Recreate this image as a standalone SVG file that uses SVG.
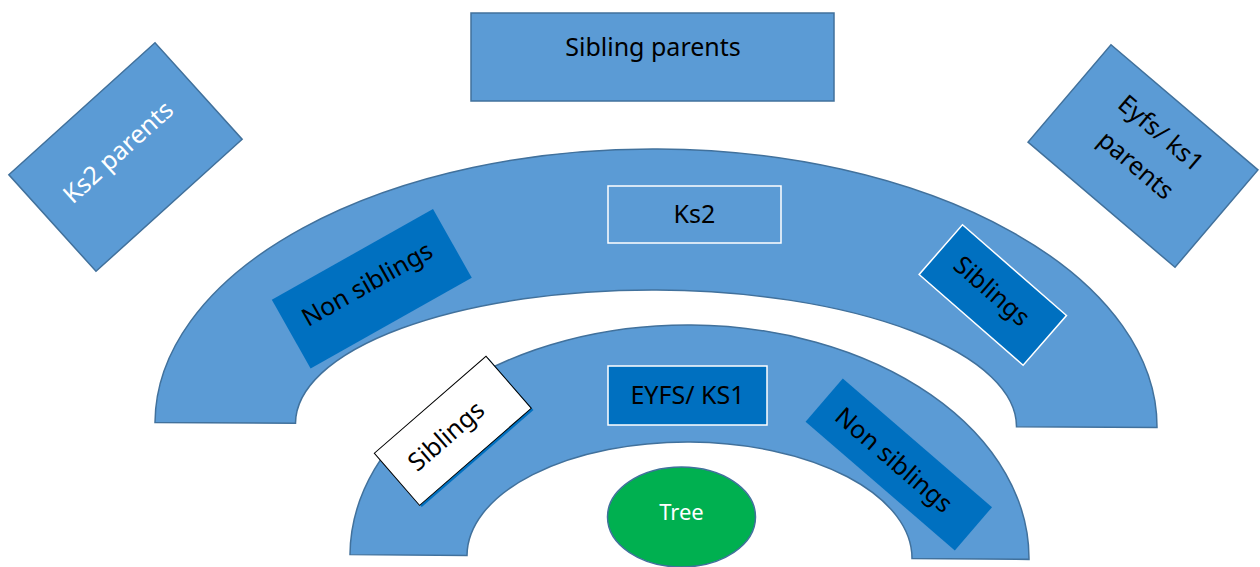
<svg xmlns="http://www.w3.org/2000/svg" width="1260" height="567" viewBox="0 0 1260 567">
<style>
.arc{fill:#5B9BD5;stroke:#41719C;stroke-width:1.5}
.lt{fill:#5B9BD5;stroke:#41719C;stroke-width:1.5}
.dk{fill:#0070C0}
.wb{stroke:#FFFFFF;stroke-width:1.5}
text{font-family:"Noto Sans","Open Sans","Liberation Sans",sans-serif;font-size:25px;text-anchor:middle}
.b{fill:#000000}
.w{fill:#FFFFFF}
</style>
<rect width="1260" height="567" fill="#FFFFFF"/>
<g id="outer-arc">
<path class="arc" transform="rotate(0.28 656 425)" d="M155,425 A501,276 0 0 1 1157,425 L1016.5,425 A360.5,135 0 0 0 295.5,425 Z"/>
</g>
<g id="inner-arc">
<path class="arc" transform="rotate(0.4 689.5 557)" d="M350,557 A339.5,232 0 0 1 1029,557 L912,557 A222.5,115 0 0 0 467,557 Z"/>
</g>
<g id="ks2-parents">
<rect class="lt" x="-98.5" y="-65" width="197" height="130" transform="translate(125.5,157) rotate(-42.1)"/>
<text class="w" transform="translate(118,152) rotate(-42.1)" dy="0.35em">Ks2 parents</text>
</g>
<g id="sibling-parents">
<rect class="lt" x="471" y="13" width="363" height="88"/>
<text class="b" x="653" y="56">Sibling parents</text>
</g>
<g id="eyfs-ks1-parents">
<rect class="lt" x="-96.5" y="-64" width="193" height="128" transform="translate(1143,156) rotate(40.4)"/>
<text class="b" transform="translate(1161,133) rotate(40.4)" dy="0.35em">Eyfs/ ks1</text>
<text class="b" transform="translate(1136,165) rotate(40.4)" dy="0.35em">parents</text>
</g>
<g id="ks2">
<rect x="608" y="186" width="173" height="57" fill="#5B9BD5" class="wb"/>
<text class="b" x="694.5" y="223">Ks2</text>
</g>
<g id="outer-non-siblings">
<rect class="dk" x="-92.5" y="-39.5" width="185" height="79" transform="translate(371.8,288.8) rotate(-29.4)"/>
<text class="b" transform="translate(367,284) rotate(-29.4)" dy="0.35em">Non siblings</text>
</g>
<g id="outer-siblings">
<rect class="dk wb" x="-69" y="-33" width="138" height="66" transform="translate(992.8,295) rotate(41.1)"/>
<text class="b" transform="translate(992,291) rotate(41.1)" dy="0.35em">Siblings</text>
</g>
<g id="eyfs-ks1">
<rect class="dk wb" x="608" y="366" width="159" height="59"/>
<text class="b" x="687.5" y="404">EYFS/ KS1</text>
</g>
<g id="inner-siblings">
<rect fill="#0070C0" x="-74" y="-34.5" width="148" height="69" transform="translate(455,432.5) rotate(-41)"/>
<rect fill="#FFFFFF" stroke="#000000" stroke-width="1" x="-74" y="-34.5" width="148" height="69" transform="translate(452.8,430.8) rotate(-41)"/>
<text class="b" transform="translate(446,436) rotate(-41)" dy="0.35em">Siblings</text>
</g>
<g id="inner-non-siblings">
<rect class="dk" x="-98.5" y="-28.5" width="197" height="57" transform="translate(898.8,464.5) rotate(40.75)"/>
<text class="b" transform="translate(894,460) rotate(40.75)" dy="0.35em">Non siblings</text>
</g>
<g id="tree">
<ellipse cx="681.5" cy="517" rx="74" ry="50" fill="#00B050" stroke="#41719C" stroke-width="1.5"/>
<text class="w" x="681.5" y="520" style="font-size:22px">Tree</text>
</g>
<g id="connectors"></g>
</svg>
